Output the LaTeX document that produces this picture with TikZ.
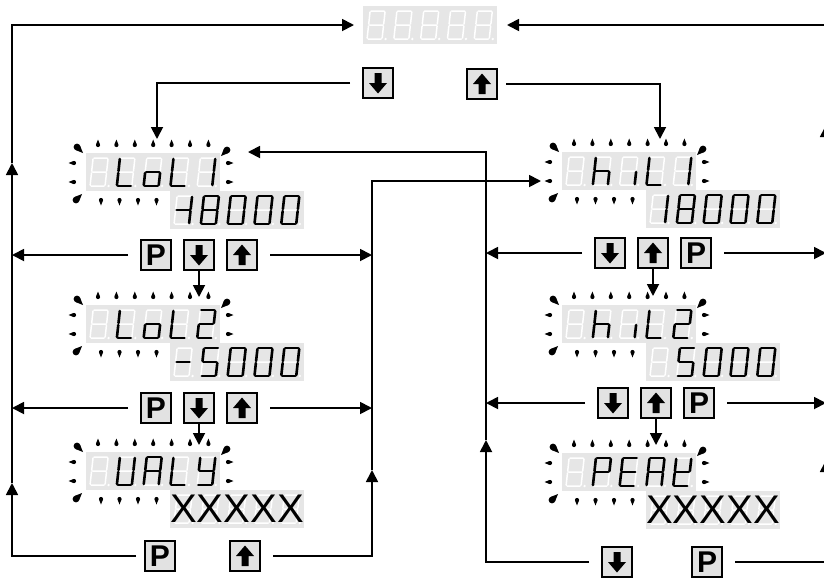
\documentclass[tikz,border=0pt]{standalone}
\usepackage{fontspec}
\setmainfont{Liberation Sans}
\usetikzlibrary{arrows.meta}
\definecolor{lcdgray}{HTML}{E6E6E6}
\definecolor{keygray}{HTML}{E2E2E2}

% segments of one digit, origin at the lower left of its cell, y upwards
\def\sega{(4.5,33)--(17.5,33)}
\def\segb{(18.5,32)--(18.5,20)}
\def\segc{(18.5,18)--(18.5,6)}
\def\segd{(4.5,5)--(17.5,5)}
\def\sege{(3.5,18)--(3.5,6)}
\def\segf{(3.5,32)--(3.5,20)}
\def\segg{(4.5,19)--(17.5,19)}
\def\segn{}

% name, upper left corner, height, lit segments of the five digits
\newcommand\lcd[4]{%
  \node[lcd, minimum height=#3pt, anchor=north west] (#1) at (#2) {};
  \foreach \d [count=\k] in {#4} {
    \begin{scope}[shift={(#2)}, shift={(\k*26.8-26.8,#3)}, x=1pt, y=1pt, xslant=0.11]
      \draw[unlit] \sega \segb \segc \segd \sege \segf \segg;
      \fill[white] (22,5) circle (1.3);
      \foreach \s in \d {\edef\segpath{\csname seg\s\endcsname}\draw[lit] \segpath;}
    \end{scope}}}

% blinking marks round a display
\newcommand\blink[1]{%
  \begin{scope}[shift={(#1)}]
    \foreach \i in {0,...,6} \pic at (12+18.4*\i,-8) {drop};
    \foreach \i in {0,...,3} \pic[rotate=180] at (15+18.5*\i,47) {drop};
    \foreach \j in {10,29} {\pic[rotate=90] at (-12,\j) {drop}; \pic[rotate=-90] at (142,\j) {drop};}
    \pic[rotate=-135] at (-9,-6) {bigdrop};
    \pic[rotate=135] at (141,-3) {bigdrop};
    \pic[rotate=-45] at (-10,47) {bigdrop};
  \end{scope}}

\begin{document}
\begin{tikzpicture}[x=1pt, y=-1pt,
  flow/.style={line width=1.8pt, -{Triangle[length=12pt,width=12pt]}},
  key/.style={draw, line width=2pt, fill=keygray, minimum size=30pt, inner sep=0pt},
  pkey/.style={key, font=\fontsize{30}{30}\bfseries\selectfont},
  dkey/.style={key, path picture={\fill[black, shift={(path picture bounding box.center)}]
    (-3.5,-10) -- (3.5,-10) -- (3.5,0) -- (9,0) -- (0,10.5) -- (-9,0) -- (-3.5,0) -- cycle;}},
  ukey/.style={key, path picture={\fill[black, shift={(path picture bounding box.center)}]
    (-3.5,10) -- (3.5,10) -- (3.5,0) -- (9,0) -- (0,-10.5) -- (-9,0) -- (-3.5,0) -- cycle;}},
  lcd/.style={fill=lcdgray, minimum width=134pt, inner sep=0pt, outer sep=0pt},
  unlit/.style={white, line width=1.5pt, line cap=round},
  lit/.style={line width=2.6pt, line cap=round},
  xrow/.style={font=\fontsize{40}{40}\selectfont, inner sep=0pt},
  drop/.pic={\fill (0,-5.5) -- (-1.9,-0.6) -- (1.9,-0.6) -- cycle; \fill (0,0) circle (2.1);},
  bigdrop/.pic={\fill (0,-8.5) -- (-3.2,-1) -- (3.2,-1) -- cycle; \fill (0,0) circle (3.4);}]
 \useasboundingbox (0,0) rectangle (824,579);

 % displays
 \lcd{tdisp}{363,6}{38}{n,n,n,n,n}
 \lcd{lol1}{86,153}{38}{n,{f,e,d},{c,d,e,g},{f,e,d},{b,c}}
 \lcd{lol1v}{170,191}{38}{{g,b,c},{a,b,c,d,e,f,g},{a,b,c,d,e,f},{a,b,c,d,e,f},{a,b,c,d,e,f}}
 \lcd{lol2}{86,305}{38}{n,{f,e,d},{c,d,e,g},{f,e,d},{a,b,g,e,d}}
 \lcd{lol2v}{170,343}{38}{g,{a,f,g,c,d},{a,b,c,d,e,f},{a,b,c,d,e,f},{a,b,c,d,e,f}}
 \lcd{valy}{86,452}{38}{n,{f,e,d,c,b},{a,b,c,e,f,g},{f,e,d},{b,c,d,f,g}}
 \lcd{valyv}{170,490}{38}{n,n,n,n,n}
 \lcd{hil1}{562,152}{38}{n,{f,e,g,c},c,{f,e,d},{b,c}}
 \lcd{hil1v}{646,190}{38}{{b,c},{a,b,c,d,e,f,g},{a,b,c,d,e,f},{a,b,c,d,e,f},{a,b,c,d,e,f}}
 \lcd{hil2}{562,305}{38}{n,{f,e,g,c},c,{f,e,d},{a,b,g,e,d}}
 \lcd{hil2v}{646,343}{38}{n,{a,f,g,c,d},{a,b,c,d,e,f},{a,b,c,d,e,f},{a,b,c,d,e,f}}
 \lcd{peak}{562,453}{38}{n,{a,b,f,g,e},{a,f,g,e,d},{a,b,c,e,f,g},{b,d,e,f,g}}
 \lcd{peakv}{646,491}{38}{n,n,n,n,n}
 \node[xrow] (valyx) at (valyv.center) {XXXXX};
 \node[xrow] (peakx) at (peakv.center) {XXXXX};
 \foreach \p in {{86,153},{86,305},{86,452},{562,152},{562,305},{562,453}} {\blink{\p}}

 % keys
 \node[dkey] (tdn) at (378,83) {};
 \node[ukey] (tup) at (482,84) {};
 \foreach \r/\y in {1/255,2/408} {
   \node[pkey] (lp\r) at (156,\y) {P};
   \node[dkey] (ld\r) at (199,\y) {};
   \node[ukey] (lu\r) at (242,\y) {};}
 \foreach \r/\y/\dx in {1/253/0,2/403/3} {
   \node[dkey] (rd\r) at (610+\dx,\y) {};
   \node[ukey] (ru\r) at (653+\dx,\y) {};
   \node[pkey] (rp\r) at (696+\dx,\y) {P};}
 \node[pkey] (lbp) at (160,556) {P};
 \node[ukey] (lbu) at (245,556) {};
 \node[dkey] (rbd) at (617,562) {};
 \node[pkey] (rbp) at (707,562) {P};

 % rails and entry points
 \coordinate (lrail) at (12,0);
 \coordinate (mlrail) at (372,0);
 \coordinate (mrrail) at (486,0);
 \coordinate (rrail) at (826,0);
 \coordinate (la1) at (12,483);
 \coordinate (la2) at (12,163);
 \coordinate (ma1) at (372,470);
 \coordinate (mb1) at (486,440);
 \coordinate (ra1) at (826,460);
 \coordinate (ra2) at (826,125);
 \coordinate (tin) at ([xshift=-9pt]tdisp.west);
 \coordinate (tin2) at ([xshift=10pt]tdisp.east);
 \coordinate (lol1top) at (157,139);
 \coordinate (hil1top) at (660,139);
 \coordinate (lol1in) at (248,152);
 \coordinate (hil1in) at (541,181);
 \coordinate (lol2in) at (199,297);
 \coordinate (valyin) at (199,445);
 \coordinate (hil2in) at (653,296);
 \coordinate (peakin) at (656,445);

 % connectors
 \draw[flow, shorten <=12pt] (tdn.west) -| (lol1top);
 \draw[flow, shorten <=8pt] (tup.east) -| (hil1top);
 \draw[flow, shorten <=8pt] (lbp.west) -| (la1);
 \draw[flow] (la1) -- (la2);
 \draw[flow] (la2) |- (tin);
 \draw[flow, shorten <=12pt] (lbu.east) -| (ma1);
 \draw[flow] (ma1) |- (hil1in);
 \draw[flow, shorten <=12pt] (rbd.west) -| (mb1);
 \draw[flow] (mb1) |- (lol1in);
 \draw[flow, shorten <=12pt] (rbp.east) -| (ra1);
 \draw[flow] (ra1) -- (ra2);
 \draw[flow] (ra2) |- (tin2);
 \foreach \r in {1,2} {
   \draw[flow, shorten <=12pt] (lp\r.west) -- (lrail |- lp\r.west);
   \draw[flow, shorten <=12pt] (lu\r.east) -- (mlrail |- lu\r.east);
   \draw[flow, shorten <=12pt] (rd\r.west) -- (mrrail |- rd\r.west);
   \draw[flow, shorten <=12pt] (rp\r.east) -- (rrail |- rp\r.east);}
 \draw[flow] (ld1.south) -- (lol2in);
 \draw[flow] (ld2.south) -- (valyin);
 \draw[flow] (ru1.south) -- (hil2in);
 \draw[flow] (ru2.south) -- (peakin);
\end{tikzpicture}
\end{document}
